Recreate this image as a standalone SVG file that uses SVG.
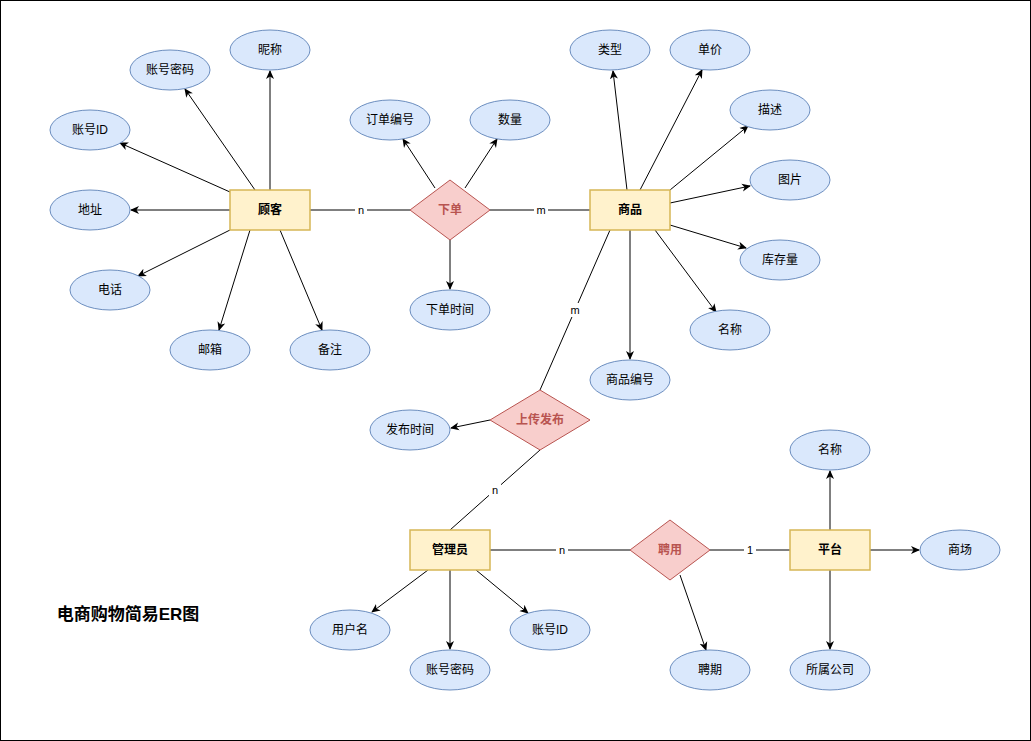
<svg xmlns="http://www.w3.org/2000/svg" width="1031" height="741" viewBox="0 0 1031 741">
<defs>
<marker id="a" markerWidth="10" markerHeight="10" refX="8" refY="5" orient="auto" markerUnits="userSpaceOnUse"><path d="M0,1 L9,5 L0,9 L2.5,5 Z" fill="#000"/></marker>
<style>
text{font-family:"Liberation Sans","Noto Sans CJK SC",sans-serif;font-size:12px;text-anchor:middle;dominant-baseline:central}
.e rect{fill:#fff2cc;stroke:#d6b656;stroke-width:1.5}
.e text{font-weight:bold}
.r polygon{fill:#f8cecc;stroke:#b85450}
.r text{font-weight:bold;fill:#b85450}
.t ellipse{fill:#dae8fc;stroke:#6c8ebf}
#c line{stroke:#000;stroke-width:1}
#c .a{marker-end:url(#a)}
.l{font-size:11px}
.lb{fill:#fff}
</style>
</defs>
<rect x="0.5" y="0.5" width="1030" height="740" fill="#fff" stroke="#000"/>
<g id="c">
<line class="a" x1="270" y1="190" x2="270" y2="71"/>
<line class="a" x1="255" y1="190" x2="185" y2="89"/>
<line class="a" x1="230" y1="192" x2="120" y2="143"/>
<line class="a" x1="230" y1="210" x2="131" y2="210"/>
<line class="a" x1="230" y1="230" x2="138" y2="276"/>
<line class="a" x1="250" y1="230" x2="219" y2="330"/>
<line class="a" x1="280" y1="230" x2="322" y2="330"/>
<line class="a" x1="435" y1="188" x2="403" y2="139"/>
<line class="a" x1="465" y1="188" x2="497" y2="139"/>
<line class="a" x1="450" y1="240" x2="450" y2="289"/>
<line class="a" x1="627" y1="190" x2="613" y2="71"/>
<line class="a" x1="640" y1="190" x2="702" y2="70"/>
<line class="a" x1="670" y1="190" x2="748" y2="126"/>
<line class="a" x1="670" y1="203" x2="750" y2="186"/>
<line class="a" x1="670" y1="225" x2="746" y2="248"/>
<line class="a" x1="655" y1="230" x2="716" y2="312"/>
<line class="a" x1="630" y1="230" x2="630" y2="359"/>
<line class="a" x1="490" y1="420" x2="451" y2="428"/>
<line class="a" x1="428" y1="570" x2="372" y2="612"/>
<line class="a" x1="450" y1="570" x2="450" y2="649"/>
<line class="a" x1="476" y1="570" x2="528" y2="613"/>
<line class="a" x1="680" y1="575" x2="706" y2="650"/>
<line class="a" x1="830" y1="530" x2="830" y2="471"/>
<line class="a" x1="870" y1="550" x2="919" y2="550"/>
<line class="a" x1="830" y1="570" x2="830" y2="649"/>
<line x1="310" y1="210" x2="410" y2="210"/>
<line x1="490" y1="210" x2="590" y2="210"/>
<line x1="540" y1="390" x2="610" y2="230"/>
<line x1="540" y1="450" x2="450" y2="530"/>
<line x1="490" y1="550" x2="630" y2="550"/>
<line x1="710" y1="550" x2="790" y2="550"/>
<rect class="lb" x="355" y="203" width="12" height="14"/><text class="l" x="361" y="210">n</text>
<rect class="lb" x="534" y="203" width="14" height="14"/><text class="l" x="541" y="210">m</text>
<rect class="lb" x="568" y="303" width="14" height="14"/><text class="l" x="575" y="310">m</text>
<rect class="lb" x="489" y="483" width="12" height="14"/><text class="l" x="495" y="490">n</text>
<rect class="lb" x="556" y="543" width="12" height="14"/><text class="l" x="562" y="550">n</text>
<rect class="lb" x="744" y="543" width="12" height="14"/><text class="l" x="750" y="550">1</text>
</g>
<g id="n-guke" class="e"><rect x="230" y="190" width="80" height="40"/><text x="270" y="210">顾客</text></g>
<g id="n-shangpin" class="e"><rect x="590" y="190" width="80" height="40"/><text x="630" y="210">商品</text></g>
<g id="n-guanli" class="e"><rect x="410" y="530" width="80" height="40"/><text x="450" y="550">管理员</text></g>
<g id="n-pingtai" class="e"><rect x="790" y="530" width="80" height="40"/><text x="830" y="550">平台</text></g>
<g id="r-xiadan" class="r"><polygon points="450,180 490,210 450,240 410,210"/><text x="450" y="210">下单</text></g>
<g id="r-shangchuan" class="r"><polygon points="540,390 590,420 540,450 490,420"/><text x="540" y="420">上传发布</text></g>
<g id="r-pinyong" class="r"><polygon points="670,520 710,550 670,580 630,550"/><text x="670" y="550">聘用</text></g>
<g id="a1" class="t"><ellipse cx="270" cy="50" rx="40" ry="20"/><text x="270" y="50">昵称</text></g>
<g id="a2" class="t"><ellipse cx="170" cy="70" rx="40" ry="20"/><text x="170" y="70">账号密码</text></g>
<g id="a3" class="t"><ellipse cx="90" cy="130" rx="40" ry="20"/><text x="90" y="130">账号ID</text></g>
<g id="a4" class="t"><ellipse cx="90" cy="210" rx="40" ry="20"/><text x="90" y="210">地址</text></g>
<g id="a5" class="t"><ellipse cx="110" cy="290" rx="40" ry="20"/><text x="110" y="290">电话</text></g>
<g id="a6" class="t"><ellipse cx="210" cy="350" rx="40" ry="20"/><text x="210" y="350">邮箱</text></g>
<g id="a7" class="t"><ellipse cx="330" cy="350" rx="40" ry="20"/><text x="330" y="350">备注</text></g>
<g id="a8" class="t"><ellipse cx="390" cy="120" rx="40" ry="20"/><text x="390" y="120">订单编号</text></g>
<g id="a9" class="t"><ellipse cx="510" cy="120" rx="40" ry="20"/><text x="510" y="120">数量</text></g>
<g id="a10" class="t"><ellipse cx="450" cy="310" rx="40" ry="20"/><text x="450" y="310">下单时间</text></g>
<g id="a11" class="t"><ellipse cx="610" cy="50" rx="40" ry="20"/><text x="610" y="50">类型</text></g>
<g id="a12" class="t"><ellipse cx="710" cy="50" rx="40" ry="20"/><text x="710" y="50">单价</text></g>
<g id="a13" class="t"><ellipse cx="770" cy="110" rx="40" ry="20"/><text x="770" y="110">描述</text></g>
<g id="a14" class="t"><ellipse cx="790" cy="180" rx="40" ry="20"/><text x="790" y="180">图片</text></g>
<g id="a15" class="t"><ellipse cx="780" cy="260" rx="40" ry="20"/><text x="780" y="260">库存量</text></g>
<g id="a16" class="t"><ellipse cx="730" cy="330" rx="40" ry="20"/><text x="730" y="330">名称</text></g>
<g id="a17" class="t"><ellipse cx="630" cy="380" rx="40" ry="20"/><text x="630" y="380">商品编号</text></g>
<g id="a18" class="t"><ellipse cx="410" cy="430" rx="40" ry="20"/><text x="410" y="430">发布时间</text></g>
<g id="a19" class="t"><ellipse cx="830" cy="450" rx="40" ry="20"/><text x="830" y="450">名称</text></g>
<g id="a20" class="t"><ellipse cx="960" cy="550" rx="40" ry="20"/><text x="960" y="550">商场</text></g>
<g id="a21" class="t"><ellipse cx="830" cy="670" rx="40" ry="20"/><text x="830" y="670">所属公司</text></g>
<g id="a22" class="t"><ellipse cx="710" cy="670" rx="40" ry="20"/><text x="710" y="670">聘期</text></g>
<g id="a23" class="t"><ellipse cx="350" cy="630" rx="40" ry="20"/><text x="350" y="630">用户名</text></g>
<g id="a24" class="t"><ellipse cx="450" cy="670" rx="40" ry="20"/><text x="450" y="670">账号密码</text></g>
<g id="a25" class="t"><ellipse cx="550" cy="630" rx="40" ry="20"/><text x="550" y="630">账号ID</text></g>
<text x="128" y="614" style="font-size:17px;font-weight:bold">电商购物简易ER图</text>
</svg>
